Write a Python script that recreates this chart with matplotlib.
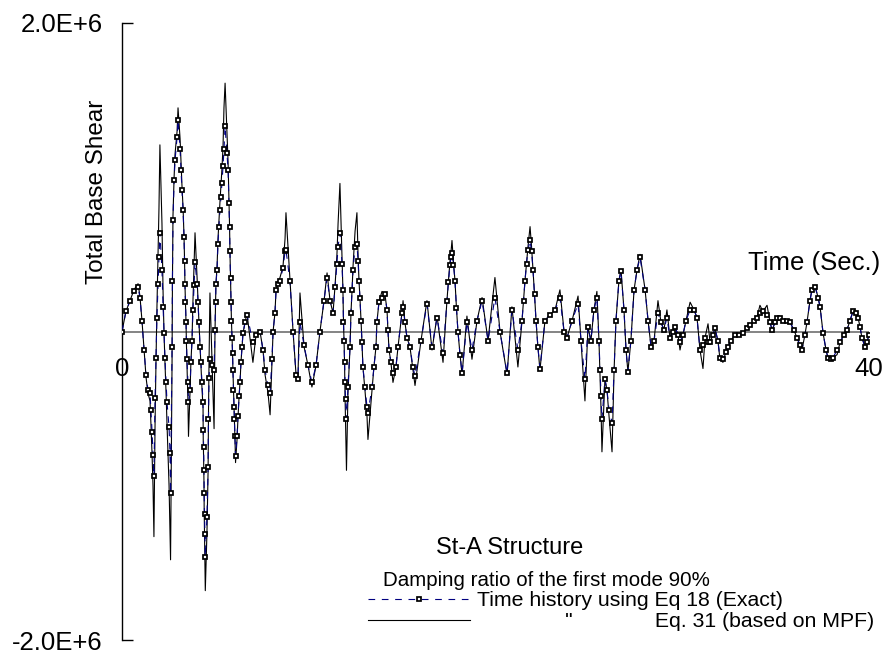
import matplotlib.pyplot as plt
import numpy as np

plt.rcParams['font.family'] = ['Liberation Sans', 'DejaVu Sans']

# time (sec.) and total base shear (x 1E+6)
time = [0.00, 0.21, 0.43, 0.64, 0.86, 0.96, 1.07, 1.18, 1.29, 1.39,
        1.50, 1.55, 1.61, 1.66, 1.71, 1.77, 1.82, 1.87, 1.93, 1.98,
        2.03, 2.14, 2.20, 2.25, 2.30, 2.36, 2.41, 2.52, 2.57, 2.60,
        2.68, 2.70, 2.73, 2.79, 2.84, 2.95, 3.00, 3.11, 3.16, 3.21,
        3.27, 3.32, 3.35, 3.37, 3.40, 3.43, 3.45, 3.48, 3.53, 3.56,
        3.64, 3.69, 3.75, 3.80, 3.86, 3.91, 4.02, 4.07, 4.12, 4.18,
        4.23, 4.28, 4.34, 4.35, 4.37, 4.39, 4.40, 4.42, 4.44, 4.46,
        4.55, 4.61, 4.63, 4.66, 4.71, 4.82, 4.93, 4.98, 5.01, 5.03,
        5.09, 5.14, 5.19, 5.25, 5.30, 5.35, 5.41, 5.46, 5.52, 5.62,
        5.68, 5.73, 5.76, 5.78, 5.81, 5.84, 5.86, 5.89, 5.92, 5.94,
        5.97, 6.00, 6.02, 6.05, 6.08, 6.16, 6.21, 6.27, 6.32, 6.37,
        6.43, 6.48, 6.59, 6.69, 7.01, 7.18, 7.39, 7.55, 7.66, 7.82,
        7.93, 8.03, 8.09, 8.19, 8.25, 8.35, 8.46, 8.62, 8.73, 8.78,
        # 9 - 11 s
        8.99, 9.16, 9.32, 9.42, 9.53, 9.75, 9.96, 10.17, 10.39, 10.60,
        10.82, 10.98, 11.14,
        # 11 - 16 s
        11.30, 11.41, 11.51, 11.57, 11.67, 11.78, 11.83, 11.86, 11.89, 11.92,
        11.94, 11.97, 12.02, 12.10, 12.21, 12.26, 12.32, 12.37, 12.48, 12.58,
        12.64, 12.69, 12.74, 12.80, 12.85, 12.90, 13.01, 13.12, 13.17, 13.39,
        13.49, 13.60, 13.65, 13.76, 13.92, 14.08, 14.19, 14.24, 14.30, 14.40,
        14.51, 14.67, 14.78, 14.99, 15.05, 15.15, 15.26, 15.42, 15.58, 15.69,
        # 16 - 27.6 s
        16.01, 16.33, 16.60, 16.87, 17.19, 17.40, 17.48, 17.56, 17.62, 17.67,
        17.75, 17.83, 17.91, 17.99, 18.10, 18.21, 18.47, 18.74, 19.01, 19.28,
        19.60, 19.97, 20.24, 20.62, 20.88, 21.20, 21.42, 21.50, 21.58, 21.66,
        21.74, 21.85, 21.93, 22.01, 22.09, 22.17, 22.27, 22.38, 22.65, 22.92,
        23.19, 23.45, 23.67, 23.83, 24.10, 24.42, 24.58, 24.79, 24.95, 25.11,
        25.27, 25.43, 25.54, 25.60, 25.65, 25.70, 25.86, 25.97, 26.08, 26.24,
        26.35, 26.45, 26.61, 26.72, 26.88, 26.99, 27.09, 27.25, 27.42, 27.58,
        # 27.7 - 40 s
        27.74, 28.01, 28.17, 28.33, 28.49, 28.70, 28.86, 29.02, 29.18, 29.34,
        29.51, 29.61, 29.77, 29.88, 30.04, 30.20, 30.42, 30.63, 30.79, 30.95,
        31.11, 31.22, 31.38, 31.49, 31.65, 31.75, 31.91, 32.02, 32.18, 32.34,
        32.45, 32.61, 32.82, 33.04, 33.25, 33.47, 33.63, 33.84, 34.00, 34.16,
        34.32, 34.54, 34.70, 34.81, 34.97, 35.07, 35.23, 35.40, 35.61, 35.77,
        35.98, 36.14, 36.31, 36.41, 36.57, 36.68, 36.84, 36.95, 37.11, 37.27,
        37.38, 37.54, 37.70, 37.80, 37.97, 38.07, 38.29, 38.45, 38.66, 38.82,
        38.98, 39.14, 39.30, 39.41, 39.52, 39.62, 39.79, 39.89, 40.00]

# Eq 18 (exact time history)
shear_exact = [0.00, 0.13, 0.20, 0.26, 0.29, 0.22, 0.07, -0.12, -0.28, -0.38,
               -0.40, -0.51, -0.65, -0.80, -0.94, -0.43, -0.17, 0.09, 0.31, 0.48,
               0.64, 0.40, 0.16, -0.01, -0.17, -0.33, -0.46, -0.62, -0.79, -1.05,
               -0.10, 0.33, 0.72, 0.98, 1.11, 1.26, 1.37, 1.18, 1.05, 0.92,
               0.79, 0.61, 0.46, 0.31, 0.19, 0.06, -0.06, -0.18, -0.33, -0.46,
               -0.38, -0.20, -0.06, 0.14, 0.30, 0.45, 0.31, 0.19, 0.06, -0.10,
               -0.20, -0.33, -0.46, -0.64, -0.75, -0.90, -1.05, -1.18, -1.31, -1.46,
               -1.20, -0.88, -0.57, -0.30, -0.18, -0.22, -0.25, 0.01, 0.19, 0.31,
               0.40, 0.57, 0.68, 0.79, 0.87, 0.96, 1.07, 1.18, 1.33, 1.16,
               1.05, 0.83, 0.68, 0.52, 0.35, 0.19, 0.07, -0.04, -0.14, -0.25,
               -0.38, -0.49, -0.57, -0.68, -0.81, -0.68, -0.55, -0.42, -0.33, -0.20,
               -0.10, -0.01, 0.06, 0.11, -0.07, -0.02, 0.00, -0.12, -0.25, -0.35,
               -0.40, -0.18, 0.00, 0.12, 0.27, 0.31, 0.33, 0.41, 0.52, 0.53,
               0.33, 0.00, -0.28, -0.31, 0.06, -0.09, -0.22, -0.33, -0.22, 0.00,
               0.20, 0.35, 0.20,
               0.12, 0.29, 0.44, 0.55, 0.64, 0.44, 0.27, 0.06, -0.06, -0.20,
               -0.33, -0.44, -0.57, -0.36, -0.10, 0.12, 0.27, 0.40, 0.55, 0.57,
               0.46, 0.33, 0.22, 0.07, -0.07, -0.23, -0.36, -0.49, -0.53, -0.36,
               -0.23, -0.10, 0.06, 0.19, 0.22, 0.24, 0.14, 0.01, -0.12, -0.20,
               -0.27, -0.23, -0.10, 0.12, 0.16, 0.06, -0.04, -0.10, -0.23, -0.29,
               -0.06, 0.18, -0.10, 0.09, -0.14, 0.20, 0.32, 0.43, 0.48, 0.51,
               0.43, 0.33, 0.15, 0.00, -0.15, -0.27, 0.06, -0.12, 0.07, 0.20,
               -0.06, 0.22, 0.00, -0.27, 0.14, -0.12, 0.07, 0.20, 0.33, 0.44,
               0.53, 0.59, 0.52, 0.40, 0.24, 0.07, -0.10, -0.24, 0.07, 0.11,
               0.14, 0.22, 0.00, -0.04, 0.07, 0.18, -0.06, -0.31, 0.03, -0.06,
               0.14, 0.22, -0.06, -0.25, -0.42, -0.57, -0.31, -0.38, -0.51, -0.59,
               -0.25, 0.07, 0.33, 0.39, 0.14, -0.12, -0.26, -0.06, 0.27, 0.40,
               0.48, 0.27, 0.07, -0.10, -0.06, 0.12, 0.06, 0.01, 0.09, -0.04,
               0.00, 0.03, -0.02, -0.07, -0.02, 0.07, 0.14, 0.14, 0.09, -0.12,
               -0.09, -0.04, -0.07, -0.07, -0.02, 0.02, -0.06, -0.17, -0.18, -0.13,
               -0.10, -0.06, -0.02, -0.02, -0.01, 0.02, 0.04, 0.07, 0.09, 0.12,
               0.13, 0.11, 0.06, 0.01, 0.06, 0.09, 0.09, 0.07, 0.07, 0.06,
               0.01, -0.04, -0.09, -0.12, -0.02, 0.06, 0.20, 0.27, 0.29, 0.22,
               0.16, -0.01, -0.12, -0.17, -0.18, -0.17, -0.12, -0.07, -0.02, 0.01,
               0.07, 0.13, 0.12, 0.09, 0.03, -0.04, -0.10, -0.07, -0.02]

# Eq 31 (based on MPF)
shear_mpf = [0.00, 0.13, 0.20, 0.27, 0.31, 0.23, 0.07, -0.12, -0.30, -0.40,
             -0.45, -0.60, -0.80, -1.00, -1.33, -0.60, -0.20, 0.15, 0.50, 0.80,
             1.21, 0.70, 0.25, -0.01, -0.20, -0.40, -0.60, -1.00, -1.30, -1.48,
             -0.20, 0.30, 0.75, 1.00, 1.15, 1.30, 1.45, 1.25, 1.10, 0.95,
             0.80, 0.62, 0.46, 0.31, 0.19, 0.05, -0.08, -0.22, -0.45, -0.68,
             -0.40, -0.20, -0.05, 0.20, 0.45, 0.64, 0.35, 0.20, 0.06, -0.10,
             -0.22, -0.36, -0.50, -0.70, -0.82, -0.98, -1.15, -1.32, -1.50, -1.68,
             -1.30, -0.90, -0.55, -0.20, 0.25, -0.20, -0.63, 0.00, 0.19, 0.31,
             0.42, 0.60, 0.72, 0.85, 0.95, 1.05, 1.20, 1.45, 1.61, 1.30,
             1.10, 0.85, 0.68, 0.52, 0.35, 0.19, 0.07, -0.04, -0.14, -0.25,
             -0.38, -0.49, -0.58, -0.70, -0.85, -0.70, -0.56, -0.42, -0.33, -0.20,
             -0.10, -0.01, 0.06, 0.12, -0.20, -0.02, 0.00, -0.12, -0.28, -0.40,
             -0.54, -0.20, 0.00, 0.12, 0.27, 0.31, 0.35, 0.42, 0.60, 0.77,
             0.35, 0.00, -0.28, -0.31, 0.25, -0.10, -0.22, -0.36, -0.22, 0.00,
             0.20, 0.38, 0.20,
             0.12, 0.30, 0.50, 0.70, 0.96, 0.50, 0.27, 0.06, -0.06, -0.22,
             -0.40, -0.60, -0.90, -0.40, -0.10, 0.12, 0.27, 0.42, 0.65, 0.77,
             0.50, 0.33, 0.22, 0.07, -0.07, -0.23, -0.38, -0.55, -0.70, -0.38,
             -0.23, -0.10, 0.06, 0.19, 0.26, 0.24, 0.14, 0.01, -0.12, -0.20,
             -0.33, -0.23, -0.10, 0.12, 0.20, 0.06, -0.04, -0.10, -0.25, -0.35,
             -0.06, 0.20, -0.12, 0.10, -0.20, 0.20, 0.33, 0.45, 0.52, 0.59,
             0.45, 0.33, 0.15, 0.00, -0.15, -0.28, 0.10, -0.18, 0.07, 0.22,
             -0.06, 0.35, 0.00, -0.28, 0.16, -0.23, 0.07, 0.20, 0.33, 0.44,
             0.55, 0.68, 0.55, 0.40, 0.24, 0.07, -0.10, -0.25, 0.07, 0.11,
             0.14, 0.27, 0.00, -0.04, 0.07, 0.23, -0.06, -0.45, 0.03, -0.06,
             0.14, 0.26, -0.06, -0.30, -0.50, -0.78, -0.31, -0.38, -0.55, -0.78,
             -0.25, 0.07, 0.33, 0.40, 0.14, -0.12, -0.26, -0.06, 0.27, 0.40,
             0.50, 0.27, 0.07, -0.10, -0.06, 0.20, 0.06, 0.01, 0.14, -0.04,
             0.00, 0.03, -0.02, -0.12, -0.02, 0.07, 0.19, 0.14, 0.09, -0.12,
             -0.24, -0.04, 0.05, -0.07, -0.02, 0.02, -0.06, -0.18, -0.20, -0.13,
             -0.10, -0.06, -0.02, -0.02, -0.01, 0.02, 0.04, 0.07, 0.09, 0.17,
             0.13, 0.17, 0.06, 0.01, 0.06, 0.09, 0.09, 0.07, 0.07, 0.06,
             0.01, -0.04, -0.09, -0.12, -0.02, 0.06, 0.20, 0.28, 0.30, 0.22,
             0.16, -0.01, -0.12, -0.17, -0.18, -0.17, -0.15, -0.07, -0.02, 0.01,
             0.07, 0.13, 0.12, 0.09, 0.03, -0.04, -0.10, -0.07, -0.02]

y_ticks = [-2.0e6, 2.0e6]
y_tick_labels = ['-2.0E+6', '2.0E+6']
x_tick_values = [0, 40]

assert len(time) == len(shear_exact) == len(shear_mpf), (len(time), len(shear_exact), len(shear_mpf))

t = np.array(time)
v_exact = np.array(shear_exact) * 1e6
v_mpf = np.array(shear_mpf) * 1e6

fig = plt.figure(figsize=(8.83, 6.53), dpi=100)
ax = fig.add_axes([122 / 883, 1 - 640 / 653, (869 - 122) / 883, 617 / 653])

ax.axhline(0, color='#707070', lw=1.2, zorder=1)
l_mpf, = ax.plot(t, v_mpf, color='black', lw=0.8, zorder=2)
l_exact, = ax.plot(t, v_exact, color='#000080', lw=0.8, ls=(0, (6, 6)),
                   marker='s', ms=3.0, mfc='white', mec='black', mew=1.25, zorder=3)

ax.set_xlim(0, 40)
ax.set_ylim(-2.0e6, 2.0e6)
for s in ['top', 'right', 'bottom']:
    ax.spines[s].set_visible(False)
ax.spines['left'].set_linewidth(1.0)
ax.set_xticks([])
ax.set_yticks(y_ticks)
ax.set_yticklabels(y_tick_labels, fontsize=18.5)
ax.tick_params(axis='y', direction='in', length=8, width=1, pad=14)

for xv in x_tick_values:
    ax.annotate(str(xv), xy=(xv, 0), xytext=(0, -27), textcoords='offset points',
                ha='center', va='center', fontsize=18.5)

fig.text(880 / 883, 1 - 263 / 653, 'Time (Sec.)', ha='right', va='center', fontsize=18.5)
fig.text(97 / 883, 1 - 192 / 653, 'Total Base Shear', rotation=90,
         ha='center', va='center', fontsize=17.5)
fig.text(510 / 883, 1 - 548 / 653, 'St-A Structure', ha='center', va='center', fontsize=17)
fig.text(546 / 883, 1 - 580 / 653, 'Damping ratio of the first mode 90%',
         ha='center', va='center', fontsize=14.8)

ax.legend([l_exact, l_mpf],
          ['Time history using Eq 18 (Exact)',
           ' ' * 15 + '"' + ' ' * 14 + 'Eq. 31 (based on MPF)'],
          loc='center left', bbox_to_anchor=(368 / 883, 1 - 611 / 653),
          bbox_transform=fig.transFigure, frameon=False, fontsize=15.3,
          handlelength=4.8, handletextpad=0.35, labelspacing=0.1,
          borderpad=0, borderaxespad=0)

fig.savefig('out.png', dpi=100)
